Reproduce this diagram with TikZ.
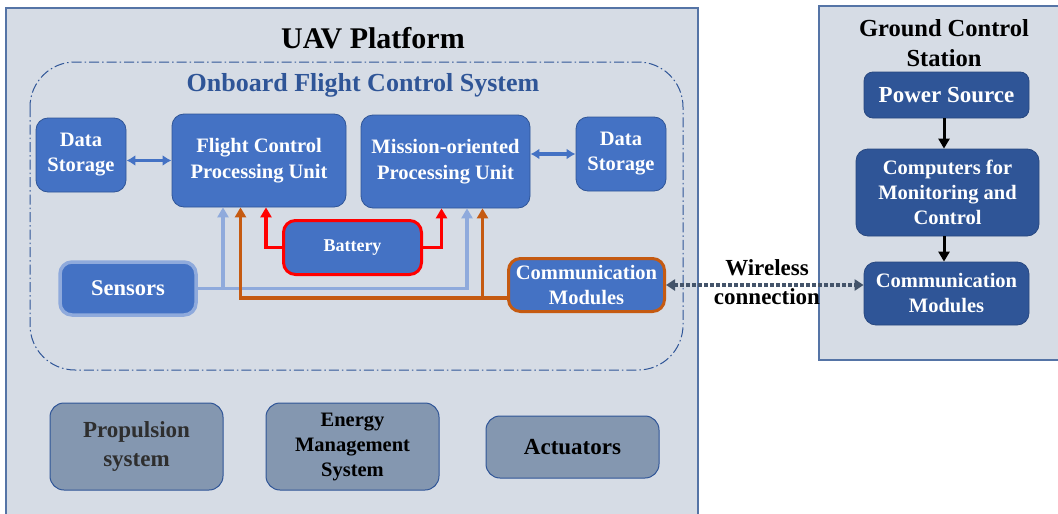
\documentclass[tikz,border=0pt]{standalone}
\usepackage{fontspec}
\setmainfont{Liberation Serif}
\usetikzlibrary{positioning, arrows.meta}

\definecolor{panelbg}{HTML}{D6DCE5}
\definecolor{boxblue}{HTML}{4472C4}
\definecolor{darkblue}{HTML}{2F5597}
\definecolor{grayblue}{HTML}{8497B0}
\definecolor{lightblue}{HTML}{8FAADC}
\definecolor{rust}{HTML}{C55A11}
\definecolor{slate}{HTML}{44546A}
\definecolor{framecol}{HTML}{5574A6}

\begin{document}
\begin{tikzpicture}[x=1pt, y=-1pt,
  box/.style={draw=darkblue, fill=boxblue, line width=0.8pt, rounded corners=12pt,
    text=white, align=center, inner sep=0pt,
    font=\fontsize{20.5}{25}\selectfont\bfseries},
  gcsbox/.style={box, fill=darkblue, draw=darkblue!85!black},
  subsys/.style={draw=darkblue, fill=grayblue, line width=1pt, rounded corners=14pt,
    align=center, inner sep=0pt, minimum width=173pt},
  frame/.style={draw=framecol, line width=1.5pt},
  datalink/.style={draw=boxblue, line width=3.5pt, {Latex[length=9pt,width=11pt]}-{Latex[length=9pt,width=11pt]}},
  feed/.style={line width=3.5pt, -{Triangle[length=10pt,width=11pt]}},
  wireless/.style={draw=slate, line width=3.5pt, dash pattern=on 3.5pt off 2.5pt,
    {Triangle[length=9pt,width=11pt]}-{Triangle[length=9pt,width=11pt]}}]
  \useasboundingbox (0,0) rectangle (1058,514);

  % Frames
  \fill[panelbg] (6,8) rectangle (698,514);
  \draw[frame] (6,514) -- (6,8) -- (698,8) -- (698,514);
  \fill[panelbg] (819,6) rectangle (1058,360);
  \draw[frame] (1058,6) -- (819,6) -- (819,360) -- (1058,360);
  \draw[darkblue, line width=1pt, rounded corners=45pt,
    dash pattern=on 10pt off 3pt on 1.5pt off 3pt] (30,62) rectangle (683,370);

  % Titles
  \node[font=\fontsize{30}{36}\selectfont\bfseries] (uavt) at (373,38) {UAV Platform};
  \node[font=\fontsize{26}{30}\selectfont\bfseries, text=darkblue] (fcst) at (363,85) {Onboard Flight Control System};
  \node[font=\fontsize{24.5}{30}\selectfont\bfseries, align=center] (gcst) at (944,43) {Ground Control\\Station};

  % Nodes
  \node[box, minimum width=90pt, minimum height=74pt] (dsL) at (81,155) {Data\\Storage};
  \node[box, minimum width=174pt, minimum height=93pt,
    font=\fontsize{20.5}{25.5}\selectfont\bfseries] (fcpu) at (259,160.5) {Flight Control\\Processing Unit};
  \node[box, minimum width=169pt, minimum height=93pt,
    font=\fontsize{20.5}{25.5}\selectfont\bfseries] (mopu) at (445.5,161.5) {Mission-oriented\\Processing Unit};
  \node[box, minimum width=90pt, minimum height=74pt] (dsR) at (621,154) {Data\\Storage};
  \node[box, draw=red, line width=3pt, minimum width=138pt, minimum height=54pt,
    font=\fontsize{18}{22}\selectfont\bfseries] (batt) at (352.5,247.5) {Battery};
  \node[box, draw=lightblue, line width=3.5pt, minimum width=136pt, minimum height=53pt,
    font=\fontsize{22.5}{27}\selectfont\bfseries] (sens) at (128,288.5) {Sensors};
  \node[box, draw=rust, line width=3pt, minimum width=156pt, minimum height=53pt,
    font=\fontsize{20.5}{24.5}\selectfont\bfseries] (commU) at (586.5,285) {Communication\\Modules};

  \node[subsys, minimum height=87pt, text=black!82,
    font=\fontsize{23}{28.5}\selectfont\bfseries] (prop) at (136.5,446.5) {Propulsion\\system};
  \node[subsys, minimum height=87pt,
    font=\fontsize{20.5}{25}\selectfont\bfseries] (ems) at (352.5,446.5) {Energy\\Management\\System};
  \node[subsys, minimum height=62pt,
    font=\fontsize{23}{28}\selectfont\bfseries] (act) at (572.5,447) {Actuators};

  \node[gcsbox, minimum width=165pt, minimum height=46pt, rounded corners=9pt,
    font=\fontsize{23}{28}\selectfont\bfseries] (power) at (946.5,95) {Power Source};
  \node[gcsbox, minimum width=183pt, minimum height=87pt,
    font=\fontsize{20.5}{24.7}\selectfont\bfseries] (comp) at (947.5,192.5) {Computers for\\Monitoring and\\Control};
  \node[gcsbox, minimum width=165pt, minimum height=63pt] (commG) at (946.5,293.5) {Communication\\Modules};

  \node[font=\fontsize{23}{28.7}\selectfont\bfseries, align=center] (wl) at (767,282) {Wireless\\connection};

  % Edges
  \draw[datalink] (dsL.east |- fcpu.west) -- (fcpu.west);
  \draw[datalink] (mopu.east |- dsR.west) -- (dsR.west);

  \draw[feed, lightblue] (sens.east) -| ([xshift=21.5pt]mopu.south);
  \draw[feed, lightblue] ([xshift=-36pt]fcpu.south |- sens.east) -- ([xshift=-36pt]fcpu.south);
  \draw[feed, rust] ([yshift=-13pt]commU.west) -| ([xshift=-18.5pt]fcpu.south);
  \draw[feed, rust] ([xshift=37pt]mopu.south |- 0,298) -- ([xshift=37pt]mopu.south);
  \draw[feed, red] (batt.west) -| ([xshift=7pt]fcpu.south);
  \draw[feed, red] (batt.east) -| ([xshift=-4pt]mopu.south);

  \draw[feed, line width=3pt] (power.south -| 944,0) -- (comp.north -| 944,0);
  \draw[feed, line width=3pt] (comp.south -| 944,0) -- (commG.north -| 944,0);

  \draw[wireless] (commU.east) -- (commU.east -| commG.west);
\end{tikzpicture}
\end{document}
